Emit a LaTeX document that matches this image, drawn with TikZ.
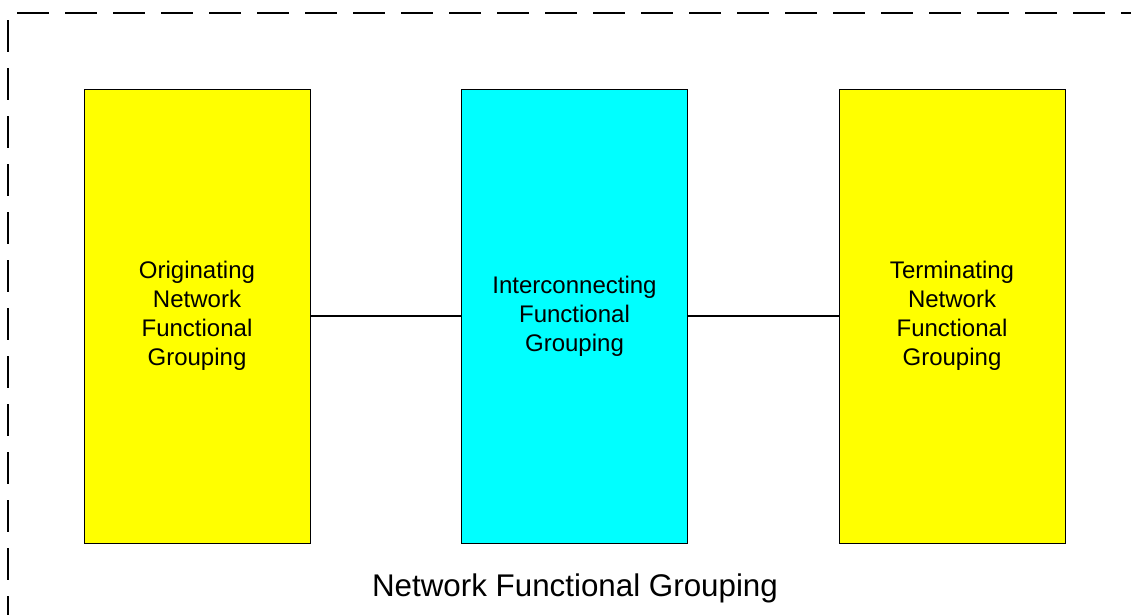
\documentclass[tikz,border=0pt]{standalone}
\usepackage{fontspec}
\setmainfont{Liberation Sans}
\definecolor{fgyellow}{HTML}{FFFF00}
\definecolor{fgcyan}{HTML}{00FFFF}
\begin{document}
\begin{tikzpicture}[x=0.75pt,y=-0.75pt,
  fgbox/.style={draw=black, line width=0.6pt, minimum width=226*0.75pt, minimum height=454*0.75pt, inner sep=0pt, align=center, font=\fontsize{18}{21.75}\selectfont},
  link/.style={draw=black, line width=0.9pt},
  frame/.style={draw=black, line width=1.3pt, dash pattern=on 24pt off 12pt}]
\useasboundingbox (0,0) rectangle (1131,614);
\draw[frame] (8,20) -- (8,1000);
\draw[frame] (17,13) -- (1200,13);
\node[fgbox, fill=fgyellow] (orig) at (197,316) {Originating\\Network\\Functional\\Grouping};
\node[fgbox, fill=fgcyan] (inter) at (574.5,316) {Interconnecting\\Functional\\Grouping};
\node[fgbox, fill=fgyellow] (term) at (952,316) {Terminating\\Network\\Functional\\Grouping};
\draw[link] (orig.east) -- (inter.west);
\draw[link] (inter.east) -- (term.west);
\node[font=\fontsize{23.5}{28}\selectfont] (title) at (575,588) {Network Functional Grouping};
\end{tikzpicture}
\end{document}
